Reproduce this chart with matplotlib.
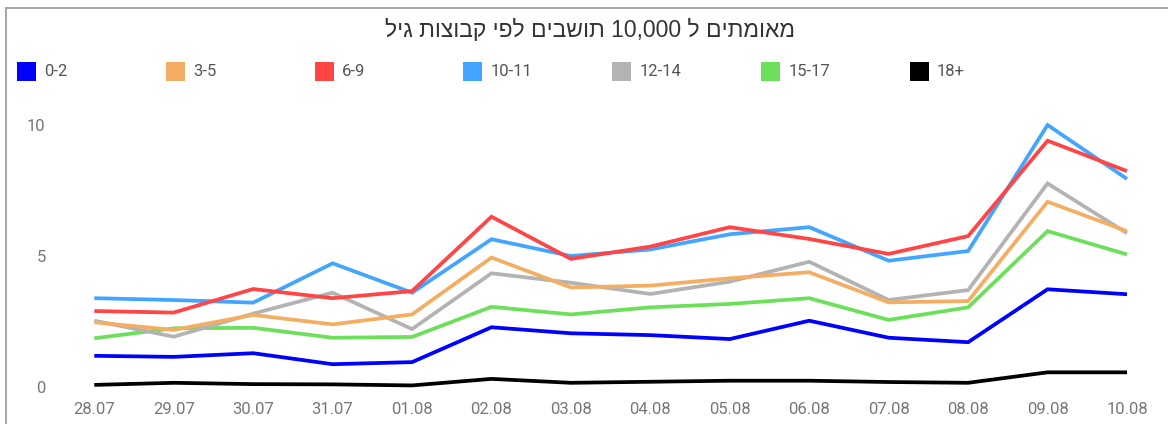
import matplotlib
matplotlib.use("Agg")
import matplotlib.pyplot as plt
from matplotlib.patches import Rectangle
from matplotlib.lines import Line2D

W, H = 1168, 424

title = "מאומתים ל 10,000 תושבים לפי קבוצות גיל"
dates = ['28.07', '29.07', '30.07', '31.07', '01.08', '02.08', '03.08',
         '04.08', '05.08', '06.08', '07.08', '08.08', '09.08', '10.08']
groups = ['0-2', '3-5', '6-9', '10-11', '12-14', '15-17', '18+']
colors = ['#0000FF', '#F4AE64', '#FF4545', '#42A5FF', '#B3B3B3', '#6CE05A', '#000000']

v_0_2 = [1.19, 1.15, 1.29, 0.87, 0.95, 2.28, 2.05, 1.98, 1.83, 2.53, 1.88, 1.71, 3.73, 3.54]
v_3_5 = [2.47, 2.18, 2.75, 2.39, 2.77, 4.94, 3.80, 3.87, 4.15, 4.38, 3.23, 3.28, 7.07, 5.95]
v_6_9 = [2.90, 2.84, 3.74, 3.39, 3.66, 6.50, 4.89, 5.36, 6.10, 5.65, 5.08, 5.76, 9.40, 8.24]
v_10_11 = [3.39, 3.32, 3.22, 4.72, 3.60, 5.64, 5.00, 5.25, 5.83, 6.10, 4.82, 5.19, 10.0, 7.94]
v_12_14 = [2.53, 1.92, 2.80, 3.60, 2.21, 4.34, 3.98, 3.55, 4.02, 4.78, 3.32, 3.70, 7.77, 5.87]
v_15_17 = [1.86, 2.24, 2.26, 1.88, 1.91, 3.06, 2.77, 3.04, 3.17, 3.39, 2.56, 3.04, 5.95, 5.06]
v_18p = [0.08, 0.16, 0.11, 0.10, 0.06, 0.31, 0.16, 0.20, 0.24, 0.24, 0.19, 0.16, 0.56, 0.56]
series = [v_0_2, v_3_5, v_6_9, v_10_11, v_12_14, v_15_17, v_18p]
yticks = [0, 5, 10]


def rtl(s):
    out = []
    for t in reversed(s.split(' ')):
        if any('\u0590' <= c <= '\u05FF' for c in t):
            out.append(t[::-1])
        else:
            out.append(t)
    return ' '.join(out)


plt.rcParams['font.family'] = ['Roboto', 'DejaVu Sans']

fig = plt.figure(figsize=(W / 100, H / 100), dpi=100)
fig.patch.set_facecolor('white')

x0, x1 = 94.3, 1127.0
y0, y1 = 387.0, 125.0
ax = fig.add_axes([x0 / W, 1 - y0 / H, (x1 - x0) / W, (y0 - y1) / H])
ax.set_xlim(0, len(dates) - 1)
ax.set_ylim(0, 10)

n = len(series)
for i, (vals, col) in enumerate(zip(series, colors)):
    ax.plot(range(len(dates)), vals, color=col, lw=2.7, solid_joinstyle='miter',
            solid_capstyle='butt', zorder=10 + (n - i), clip_on=False)

for s in ax.spines.values():
    s.set_visible(False)
ax.set_xticks(range(len(dates)))
ax.set_xticklabels(dates)
ax.set_yticks(yticks)
ax.set_yticklabels([str(t) for t in yticks])
ax.tick_params(axis='x', length=0, pad=16.5, labelsize=12, labelcolor='#777777')
ax.tick_params(axis='y', length=0, pad=35, labelsize=12, labelcolor='#777777')
for lab in ax.get_xticklabels():
    lab.set_va('center')

# title
fig.text(590 / W, 1 - 30 / H, rtl(title), ha='center', va='center', fontsize=16.5,
         color='#333333', family=['Liberation Sans', 'DejaVu Sans'])

# legend
for i, (g, col) in enumerate(zip(groups, colors)):
    lx = 17 + 148.83 * i
    fig.add_artist(Rectangle((lx / W, 1 - 81 / H), 19 / W, 19 / H, transform=fig.transFigure,
                             facecolor=col, edgecolor='none'))
    fig.text((lx + 27) / W, 1 - 72 / H, g, ha='left', va='center', fontsize=12,
             color='#555555')

# frame
fig.add_artist(Line2D([6 / W, 6 / W], [0, 1 - 8 / H], transform=fig.transFigure,
                      color='#A6A6A6', lw=1.4))
fig.add_artist(Line2D([6 / W, 1], [1 - 8 / H, 1 - 8 / H], transform=fig.transFigure,
                      color='#A6A6A6', lw=1.4))

fig.savefig('out.png', dpi=100, facecolor='white')
